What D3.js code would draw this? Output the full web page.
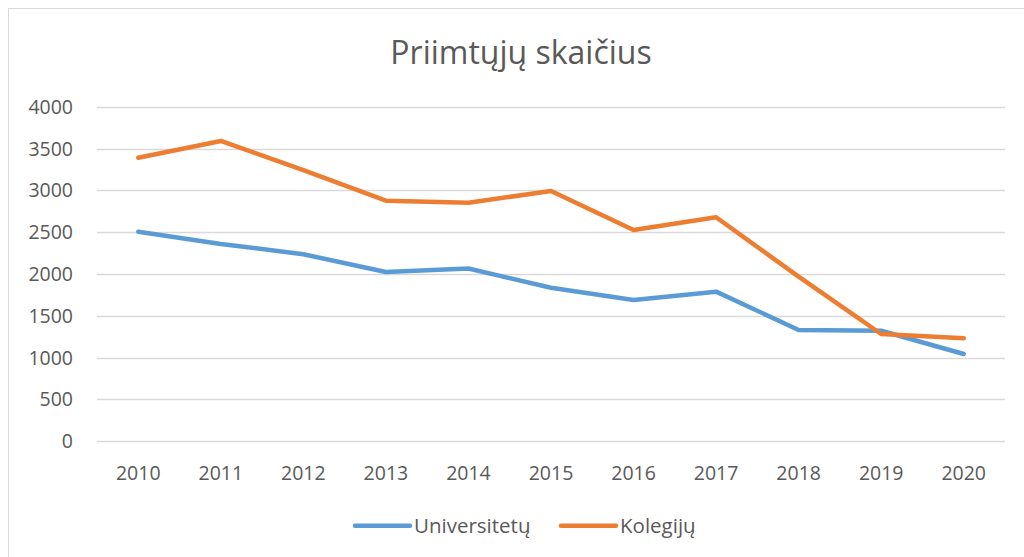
<!DOCTYPE html>
<html>
<head>
<meta charset="utf-8">
<script src="https://cdn.jsdelivr.net/npm/d3@7"></script>
<style>
  body { margin: 0; background: #fff; }
  svg { display: block; font-family: "Open Sans", "Liberation Sans", sans-serif; }
</style>
</head>
<body>
<div id="chart"></div>
<script>
const years = ["2010", "2011", "2012", "2013", "2014", "2015", "2016", "2017", "2018", "2019", "2020"];
const universitetu = [2506, 2359, 2236, 2024, 2065, 1836, 1689, 1789, 1331, 1322, 1044];
const kolegiju = [3390, 3590, 3243, 2876, 2852, 2992, 2526, 2678, 1968, 1283, 1231];
const yTicks = [0, 500, 1000, 1500, 2000, 2500, 3000, 3500, 4000];

const series = [
    { name: "Universitetų", values: universitetu, color: "#5B9BD5" },
    { name: "Kolegijų", values: kolegiju, color: "#ED7D31" }
];

const width = 1024, height = 557;
const plot = { left: 97, right: 1005, top: 106.7, bottom: 441.3 };

const svg = d3.select("#chart").append("svg")
    .attr("width", width)
    .attr("height", height);

// chart frame
svg.append("rect")
    .attr("x", 8.5).attr("y", 8.5)
    .attr("width", 1030).attr("height", 560)
    .attr("fill", "#fff")
    .attr("stroke", "#d9d9d9");

const x = d3.scaleBand().domain(years).range([plot.left, plot.right]).padding(0);
const y = d3.scaleLinear().domain([0, 4000]).range([plot.bottom, plot.top]);

// gridlines
svg.append("g")
    .selectAll("line")
    .data(yTicks)
    .join("line")
    .attr("x1", plot.left).attr("x2", plot.right)
    .attr("y1", d => Math.round(y(d)) + 0.5)
    .attr("y2", d => Math.round(y(d)) + 0.5)
    .attr("stroke", "#d9d9d9")
    .attr("stroke-width", 1.3);

// y axis labels
svg.append("g")
    .selectAll("text")
    .data(yTicks)
    .join("text")
    .attr("x", 73)
    .attr("y", d => y(d))
    .attr("dy", "0.36em")
    .attr("text-anchor", "end")
    .style("font-size", "19.5px")
    .style("fill", "#595959")
    .text(d => d);

// x axis labels
svg.append("g")
    .selectAll("text")
    .data(years)
    .join("text")
    .attr("x", d => x(d) + x.bandwidth() / 2)
    .attr("y", 473)
    .attr("dy", "0.36em")
    .attr("text-anchor", "middle")
    .style("font-size", "19.5px")
    .style("fill", "#595959")
    .text(d => d);

// lines
const line = d3.line()
    .x((d, i) => x(years[i]) + x.bandwidth() / 2)
    .y(d => y(d));

svg.append("g")
    .selectAll("path")
    .data(series)
    .join("path")
    .attr("d", d => line(d.values))
    .attr("fill", "none")
    .attr("stroke", d => d.color)
    .attr("stroke-width", 4.5)
    .attr("stroke-linejoin", "round")
    .attr("stroke-linecap", "round");

// title
svg.append("text")
    .attr("x", 521)
    .attr("y", 52)
    .attr("dy", "0.36em")
    .attr("text-anchor", "middle")
    .style("font-size", "32px")
    .style("fill", "#595959")
    .text("Priimtųjų skaičius");

// legend
const legendX = [355, 561];
const legend = svg.append("g")
    .selectAll("g")
    .data(series)
    .join("g")
    .attr("transform", (d, i) => `translate(${legendX[i]}, 525.7)`);

legend.append("line")
    .attr("x1", 0).attr("x2", 55)
    .attr("stroke", d => d.color)
    .attr("stroke-width", 4.5)
    .attr("stroke-linecap", "round");

legend.append("text")
    .attr("x", 59)
    .attr("dy", "0.36em")
    .style("font-size", "20.5px")
    .style("fill", "#595959")
    .text(d => d.name);
</script>
</body>
</html>
